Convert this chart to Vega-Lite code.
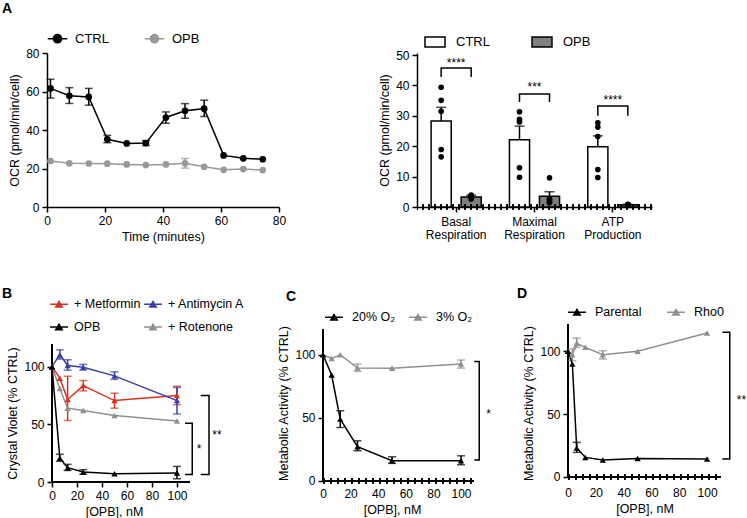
{
  "$schema": "https://vega.github.io/schema/vega-lite/v6.json",
  "padding": {"left": 2, "top": 2, "right": 0, "bottom": 0},
  "background": "white",
  "config": {
    "font": "Liberation Sans",
    "view": {"stroke": null},
    "axis": {"domainColor": "#000", "domainWidth": 1.5, "tickColor": "#000", "tickWidth": 1.5, "tickSize": 5, "labelColor": "#000", "labelFontSize": 12, "titleColor": "#000", "titleFontSize": 12.5, "titleFontWeight": "normal", "grid": false, "labelPadding": 3, "titlePadding": 4, "labelFlush": false, "labelOverlap": false},
    "legend": {"labelFontSize": 12.5, "labelColor": "#000", "title": null},
    "title": {"fontSize": 14, "fontWeight": "bold", "anchor": "start", "frame": "group", "color": "#000", "offset": 0}
  },
  "datasets": {
    "a1": [
      {"t": 1.2, "v": 61.6, "lo": 56.6, "hi": 66.4, "s": "CTRL"},
      {"t": 7.7, "v": 57.8, "lo": 53.8, "hi": 62.0, "s": "CTRL"},
      {"t": 14.4, "v": 57.2, "lo": 52.9, "hi": 61.6, "s": "CTRL"},
      {"t": 20.8, "v": 35.2, "lo": 33.4, "hi": 37.2, "s": "CTRL"},
      {"t": 27.5, "v": 33.0, "lo": null, "hi": null, "s": "CTRL"},
      {"t": 34.1, "v": 33.2, "lo": 31.9, "hi": 34.5, "s": "CTRL"},
      {"t": 41.0, "v": 46.5, "lo": 43.5, "hi": 49.4, "s": "CTRL"},
      {"t": 47.6, "v": 50.0, "lo": 46.1, "hi": 53.7, "s": "CTRL"},
      {"t": 54.2, "v": 51.1, "lo": 47.0, "hi": 55.5, "s": "CTRL"},
      {"t": 60.9, "v": 26.8, "lo": null, "hi": null, "s": "CTRL"},
      {"t": 67.7, "v": 25.3, "lo": null, "hi": null, "s": "CTRL"},
      {"t": 74.4, "v": 24.8, "lo": null, "hi": null, "s": "CTRL"},
      {"t": 1.2, "v": 23.9, "lo": null, "hi": null, "s": "OPB"},
      {"t": 7.7, "v": 22.7, "lo": null, "hi": null, "s": "OPB"},
      {"t": 14.4, "v": 22.6, "lo": null, "hi": null, "s": "OPB"},
      {"t": 20.8, "v": 22.5, "lo": null, "hi": null, "s": "OPB"},
      {"t": 27.5, "v": 22.1, "lo": null, "hi": null, "s": "OPB"},
      {"t": 34.1, "v": 21.8, "lo": null, "hi": null, "s": "OPB"},
      {"t": 41.0, "v": 22.1, "lo": null, "hi": null, "s": "OPB"},
      {"t": 47.6, "v": 22.7, "lo": 20.2, "hi": 25.2, "s": "OPB"},
      {"t": 54.2, "v": 20.9, "lo": null, "hi": null, "s": "OPB"},
      {"t": 60.9, "v": 19.3, "lo": null, "hi": null, "s": "OPB"},
      {"t": 67.7, "v": 19.7, "lo": null, "hi": null, "s": "OPB"},
      {"t": 74.4, "v": 19.2, "lo": null, "hi": null, "s": "OPB"}
    ],
    "a2bars": [
      {"cat": "Basal Respiration", "g": "CTRL", "mean": 28.3, "hi": 32.8},
      {"cat": "Basal Respiration", "g": "OPB", "mean": 3.3, "hi": 3.9},
      {"cat": "Maximal Respiration", "g": "CTRL", "mean": 22.1, "hi": 26.6},
      {"cat": "Maximal Respiration", "g": "OPB", "mean": 3.5, "hi": 5.0},
      {"cat": "ATP Production", "g": "CTRL", "mean": 19.8, "hi": 23.4},
      {"cat": "ATP Production", "g": "OPB", "mean": 0.7, "hi": 0.9}
    ],
    "a2dots": [
      {"cat": "Basal Respiration", "g": "CTRL", "v": 39.4},
      {"cat": "Basal Respiration", "g": "CTRL", "v": 35.1},
      {"cat": "Basal Respiration", "g": "CTRL", "v": 31.5},
      {"cat": "Basal Respiration", "g": "CTRL", "v": 18.9},
      {"cat": "Basal Respiration", "g": "CTRL", "v": 16.5},
      {"cat": "Basal Respiration", "g": "OPB", "v": 3.9},
      {"cat": "Basal Respiration", "g": "OPB", "v": 3.6},
      {"cat": "Basal Respiration", "g": "OPB", "v": 3.3},
      {"cat": "Basal Respiration", "g": "OPB", "v": 2.6},
      {"cat": "Basal Respiration", "g": "OPB", "v": 3.4},
      {"cat": "Maximal Respiration", "g": "CTRL", "v": 31.3},
      {"cat": "Maximal Respiration", "g": "CTRL", "v": 28.0},
      {"cat": "Maximal Respiration", "g": "CTRL", "v": 28.8},
      {"cat": "Maximal Respiration", "g": "CTRL", "v": 12.9},
      {"cat": "Maximal Respiration", "g": "CTRL", "v": 9.8},
      {"cat": "Maximal Respiration", "g": "OPB", "v": 9.6},
      {"cat": "Maximal Respiration", "g": "OPB", "v": 2.6},
      {"cat": "Maximal Respiration", "g": "OPB", "v": 2.4},
      {"cat": "Maximal Respiration", "g": "OPB", "v": 1.5},
      {"cat": "Maximal Respiration", "g": "OPB", "v": 1.6},
      {"cat": "ATP Production", "g": "CTRL", "v": 27.7},
      {"cat": "ATP Production", "g": "CTRL", "v": 26.3},
      {"cat": "ATP Production", "g": "CTRL", "v": 23.2},
      {"cat": "ATP Production", "g": "CTRL", "v": 12.3},
      {"cat": "ATP Production", "g": "CTRL", "v": 9.7},
      {"cat": "ATP Production", "g": "OPB", "v": 0.8},
      {"cat": "ATP Production", "g": "OPB", "v": 0.7},
      {"cat": "ATP Production", "g": "OPB", "v": 0.6},
      {"cat": "ATP Production", "g": "OPB", "v": 0.9},
      {"cat": "ATP Production", "g": "OPB", "v": 0.5}
    ],
    "a2br": [
      {"cat": "Basal Respiration", "g": "CTRL", "y": 42.8, "k": 1},
      {"cat": "Basal Respiration", "g": "CTRL", "y": 45.7, "k": 2},
      {"cat": "Basal Respiration", "g": "OPB", "y": 45.7, "k": 3},
      {"cat": "Basal Respiration", "g": "OPB", "y": 42.8, "k": 4},
      {"cat": "Maximal Respiration", "g": "CTRL", "y": 34.5, "k": 1},
      {"cat": "Maximal Respiration", "g": "CTRL", "y": 37.2, "k": 2},
      {"cat": "Maximal Respiration", "g": "OPB", "y": 37.2, "k": 3},
      {"cat": "Maximal Respiration", "g": "OPB", "y": 34.5, "k": 4},
      {"cat": "ATP Production", "g": "CTRL", "y": 30.0, "k": 1},
      {"cat": "ATP Production", "g": "CTRL", "y": 33.2, "k": 2},
      {"cat": "ATP Production", "g": "OPB", "y": 33.2, "k": 3},
      {"cat": "ATP Production", "g": "OPB", "y": 30.0, "k": 4}
    ],
    "a2st": [
      {"cat": "Basal Respiration", "y": 47.5, "txt": "****"},
      {"cat": "Maximal Respiration", "y": 39.5, "txt": "***"},
      {"cat": "ATP Production", "y": 35.3, "txt": "****"}
    ],
    "b": [
      {"x": 0, "v": 100, "lo": null, "hi": null, "s": "+ Rotenone"},
      {"x": 6.25, "v": 81, "lo": null, "hi": null, "s": "+ Rotenone"},
      {"x": 12.5, "v": 64, "lo": null, "hi": null, "s": "+ Rotenone"},
      {"x": 25, "v": 62, "lo": null, "hi": null, "s": "+ Rotenone"},
      {"x": 50, "v": 57.6, "lo": null, "hi": null, "s": "+ Rotenone"},
      {"x": 100, "v": 52.8, "lo": null, "hi": null, "s": "+ Rotenone"},
      {"x": 0, "v": 100, "lo": null, "hi": null, "s": "+ Metformin"},
      {"x": 6.25, "v": 90, "lo": null, "hi": null, "s": "+ Metformin"},
      {"x": 12.5, "v": 71.5, "lo": 53.3, "hi": 91.7, "s": "+ Metformin"},
      {"x": 25, "v": 83.6, "lo": 79, "hi": 88, "s": "+ Metformin"},
      {"x": 50, "v": 70.6, "lo": 64, "hi": 77, "s": "+ Metformin"},
      {"x": 100, "v": 75, "lo": 67, "hi": 83, "s": "+ Metformin"},
      {"x": 0, "v": 100, "lo": null, "hi": null, "s": "+ Antimycin A"},
      {"x": 6.25, "v": 110.4, "lo": 106.6, "hi": 114.6, "s": "+ Antimycin A"},
      {"x": 12.5, "v": 101, "lo": 97, "hi": 106, "s": "+ Antimycin A"},
      {"x": 25, "v": 99.5, "lo": 97, "hi": 102, "s": "+ Antimycin A"},
      {"x": 50, "v": 92, "lo": 89, "hi": 95.5, "s": "+ Antimycin A"},
      {"x": 100, "v": 70.6, "lo": 59, "hi": 82, "s": "+ Antimycin A"},
      {"x": 0, "v": 100, "lo": null, "hi": null, "s": "OPB"},
      {"x": 6.25, "v": 20.7, "lo": 18, "hi": 24, "s": "OPB"},
      {"x": 12.5, "v": 12.4, "lo": 10, "hi": 15.3, "s": "OPB"},
      {"x": 25, "v": 8.6, "lo": 6.7, "hi": 10.7, "s": "OPB"},
      {"x": 50, "v": 7.2, "lo": null, "hi": null, "s": "OPB"},
      {"x": 100, "v": 7.8, "lo": 2.8, "hi": 13.5, "s": "OPB"}
    ],
    "bbr": [
      {"id": "s1", "x": 106.4, "y": 51, "k": 1},
      {"id": "s1", "x": 112.2, "y": 51, "k": 2},
      {"id": "s1", "x": 112.2, "y": 6.6, "k": 3},
      {"id": "s1", "x": 106.4, "y": 6.6, "k": 4},
      {"id": "s2", "x": 119, "y": 75, "k": 1},
      {"id": "s2", "x": 125.6, "y": 75, "k": 2},
      {"id": "s2", "x": 125.6, "y": 6.6, "k": 3},
      {"id": "s2", "x": 119, "y": 6.6, "k": 4}
    ],
    "bst": [
      {"x": 117.6, "y": 29, "txt": "*"},
      {"x": 132, "y": 41, "txt": "**"}
    ],
    "c": [
      {"x": 0, "v": 100, "lo": null, "hi": null, "s": "3% O₂"},
      {"x": 6.25, "v": 97.1, "lo": null, "hi": null, "s": "3% O₂"},
      {"x": 12.5, "v": 100, "lo": null, "hi": null, "s": "3% O₂"},
      {"x": 25, "v": 89.4, "lo": 86.8, "hi": 92.6, "s": "3% O₂"},
      {"x": 50, "v": 89.2, "lo": null, "hi": null, "s": "3% O₂"},
      {"x": 100, "v": 92.6, "lo": 89.4, "hi": 95.8, "s": "3% O₂"},
      {"x": 0, "v": 100, "lo": null, "hi": null, "s": "20% O₂"},
      {"x": 6.25, "v": 83.9, "lo": null, "hi": null, "s": "20% O₂"},
      {"x": 12.5, "v": 48.9, "lo": 42.3, "hi": 55.6, "s": "20% O₂"},
      {"x": 25, "v": 27, "lo": 23.8, "hi": 31.7, "s": "20% O₂"},
      {"x": 50, "v": 15.9, "lo": 13.8, "hi": 19, "s": "20% O₂"},
      {"x": 100, "v": 15.9, "lo": 12.7, "hi": 19.8, "s": "20% O₂"}
    ],
    "cbr": [
      {"id": "s1", "x": 109.6, "y": 94.7, "k": 1},
      {"id": "s1", "x": 113.2, "y": 94.7, "k": 2},
      {"id": "s1", "x": 113.2, "y": 16.4, "k": 3},
      {"id": "s1", "x": 109.6, "y": 16.4, "k": 4}
    ],
    "cst": [{"x": 120, "y": 53, "txt": "*"}],
    "d": [
      {"x": 0, "v": 100, "lo": null, "hi": null, "s": "Rho0"},
      {"x": 3.125, "v": 97.3, "lo": 92.6, "hi": 101.9, "s": "Rho0"},
      {"x": 6.25, "v": 106.4, "lo": 103.2, "hi": 110.6, "s": "Rho0"},
      {"x": 12.5, "v": 103.2, "lo": null, "hi": null, "s": "Rho0"},
      {"x": 25, "v": 97.3, "lo": 93.9, "hi": 100.5, "s": "Rho0"},
      {"x": 50, "v": 100, "lo": null, "hi": null, "s": "Rho0"},
      {"x": 100, "v": 114.6, "lo": null, "hi": null, "s": "Rho0"},
      {"x": 0, "v": 100, "lo": null, "hi": null, "s": "Parental"},
      {"x": 3.125, "v": 89.9, "lo": null, "hi": null, "s": "Parental"},
      {"x": 6.25, "v": 22.9, "lo": 19.4, "hi": 27.4, "s": "Parental"},
      {"x": 12.5, "v": 15.4, "lo": null, "hi": null, "s": "Parental"},
      {"x": 25, "v": 13.3, "lo": null, "hi": null, "s": "Parental"},
      {"x": 50, "v": 14.6, "lo": null, "hi": null, "s": "Parental"},
      {"x": 100, "v": 14.1, "lo": null, "hi": null, "s": "Parental"}
    ],
    "dbr": [
      {"id": "s1", "x": 111, "y": 115.2, "k": 1},
      {"id": "s1", "x": 116.3, "y": 115.2, "k": 2},
      {"id": "s1", "x": 116.3, "y": 14.1, "k": 3},
      {"id": "s1", "x": 111, "y": 14.1, "k": 4}
    ],
    "dst": [{"x": 124.7, "y": 61, "txt": "**"}]
  },
  "spacing": 44,
  "resolve": {"scale": {"color": "independent"}, "legend": {"color": "independent"}},
  "vconcat": [
    {
      "hconcat": [
        {
          "name": "pA1",
          "width": 232,
          "height": 154,
          "title": {"text": "A", "dx": -45, "dy": -8},
          "data": {"name": "a1"},
          "encoding": {
            "x": {"field": "t", "type": "quantitative", "scale": {"domain": [0, 80], "nice": false}, "axis": {"values": [0, 20, 40, 60, 80], "title": "Time (minutes)"}},
            "y": {"field": "v", "type": "quantitative", "scale": {"domain": [0, 80], "nice": false}, "axis": {"values": [0, 20, 40, 60, 80], "title": "OCR (pmol/min/cell)"}},
            "color": {"field": "s", "type": "nominal", "scale": {"domain": ["CTRL", "OPB"], "range": ["#000000", "#999999"]},
              "legend": {"orient": "none", "legendX": 0, "legendY": -25, "direction": "horizontal", "symbolType": "M-1,0H1M0.42,0A0.42,0.42,0,1,1,-0.42,0A0.42,0.42,0,1,1,0.42,0Z", "symbolSize": 380, "symbolStrokeWidth": 1.5, "labelFontSize": 13, "labelOffset": 7, "columnPadding": 32,
                "encode": {"symbols": {"update": {"fill": [{"test": "datum.value === 'CTRL'", "value": "#000000"}, {"value": "#999999"}], "stroke": [{"test": "datum.value === 'CTRL'", "value": "#000000"}, {"value": "#999999"}], "opacity": {"value": 1}}}}}}
          },
          "layer": [
            {"transform": [{"filter": "datum.lo != null"}], "mark": {"type": "errorbar", "ticks": {"size": 8, "thickness": 1.5}, "rule": {"strokeWidth": 1.5}},
             "encoding": {"y": {"field": "lo", "type": "quantitative", "scale": {"domain": [0, 80], "nice": false}, "axis": {"values": [0, 20, 40, 60, 80], "title": "OCR (pmol/min/cell)"}}, "y2": {"field": "hi"}}},
            {"mark": {"type": "line", "strokeWidth": 1.5}},
            {"mark": {"type": "point", "filled": true, "size": 45, "opacity": 1}}
          ]
        },
        {
          "name": "pA2",
          "width": 235,
          "height": 154,
          "encoding": {
            "x": {"field": "cat", "type": "nominal", "scale": {"domain": ["Basal Respiration", "Maximal Respiration", "ATP Production"], "paddingInner": 0, "paddingOuter": 0}, "axis": {"title": null, "labelAngle": 0, "labelExpr": "split(datum.label, ' ')", "labelLineHeight": 13, "labelPadding": 4}},
            "xOffset": {"field": "g", "type": "nominal", "scale": {"domain": ["CTRL", "OPB"], "paddingInner": 0.33, "paddingOuter": 0.47}}
          },
          "layer": [
            {"data": {"name": "a2bars"}, "mark": {"type": "bar", "stroke": "#000", "strokeWidth": 1.5},
             "encoding": {
               "y": {"field": "mean", "type": "quantitative", "scale": {"domain": [0, 50.66], "nice": false}, "axis": {"values": [0, 10, 20, 30, 40, 50], "title": "OCR (pmol/min/cell)"}},
               "color": {"field": "g", "type": "nominal", "scale": {"domain": ["CTRL", "OPB"], "range": ["#ffffff", "#7f7f7f"]},
                 "legend": {"orient": "none", "legendX": 7, "legendY": -22, "direction": "horizontal", "symbolType": "M-1,-0.5H1V0.5H-1Z", "symbolSize": 400, "symbolStrokeWidth": 1.5, "labelFontSize": 13, "labelOffset": 10, "columnPadding": 39,
                   "encode": {"symbols": {"update": {"fill": [{"test": "datum.value === 'CTRL'", "value": "#ffffff"}, {"value": "#7f7f7f"}], "stroke": {"value": "#000000"}, "opacity": {"value": 1}}}}}}
             }},
            {"data": {"name": "a2bars"}, "mark": {"type": "rule", "color": "#000", "strokeWidth": 1.5},
             "encoding": {"y": {"field": "mean", "type": "quantitative", "scale": {"domain": [0, 50.66], "nice": false}, "axis": {"values": [0, 10, 20, 30, 40, 50], "title": "OCR (pmol/min/cell)"}}, "y2": {"field": "hi"}}},
            {"data": {"name": "a2bars"}, "mark": {"type": "tick", "color": "#000", "thickness": 1.5, "size": 10},
             "encoding": {"y": {"field": "hi", "type": "quantitative", "scale": {"domain": [0, 50.66], "nice": false}, "axis": {"values": [0, 10, 20, 30, 40, 50], "title": "OCR (pmol/min/cell)"}}}},
            {"data": {"name": "a2dots"}, "mark": {"type": "point", "filled": true, "color": "#000", "size": 32, "opacity": 1},
             "encoding": {"y": {"field": "v", "type": "quantitative", "scale": {"domain": [0, 50.66], "nice": false}, "axis": {"values": [0, 10, 20, 30, 40, 50], "title": "OCR (pmol/min/cell)"}}}},
            {"data": {"name": "a2bars"}, "mark": {"type": "rule", "color": "#000", "strokeWidth": 5, "strokeDash": [1.5, 4.5]},
             "encoding": {"x": null, "xOffset": null, "y": {"datum": 0, "type": "quantitative", "scale": {"domain": [0, 50.66], "nice": false}, "axis": {"values": [0, 10, 20, 30, 40, 50], "title": "OCR (pmol/min/cell)"}}}},
            {"data": {"name": "a2br"}, "mark": {"type": "line", "color": "#000", "strokeWidth": 1.5},
             "encoding": {"y": {"field": "y", "type": "quantitative", "scale": {"domain": [0, 50.66], "nice": false}, "axis": {"values": [0, 10, 20, 30, 40, 50], "title": "OCR (pmol/min/cell)"}}, "detail": {"field": "cat"}, "order": {"field": "k"}}},
            {"data": {"name": "a2st"}, "mark": {"type": "text", "fontSize": 12, "baseline": "middle", "color": "#000"},
             "encoding": {"xOffset": null, "y": {"field": "y", "type": "quantitative", "scale": {"domain": [0, 50.66], "nice": false}, "axis": {"values": [0, 10, 20, 30, 40, 50], "title": "OCR (pmol/min/cell)"}}, "text": {"field": "txt"}}}
          ]
        }
      ],
      "spacing": 138,
      "bounds": "flush",
      "resolve": {"scale": {"color": "independent"}, "legend": {"color": "independent"}}
    },
    {
      "hconcat": [
        {
          "name": "pB",
          "width": 182,
          "height": 158,
          "title": {"text": "B", "dx": -45, "dy": 11},
          "encoding": {
            "x": {"field": "x", "type": "quantitative", "scale": {"domain": [-4, 141.6], "nice": false}, "axis": {"values": [0, 20, 40, 60, 80, 100], "domain": false, "title": "[OPB], nM", "titleX": 67}},
            "y": {"field": "v", "type": "quantitative", "scale": {"domain": [0, 137], "nice": false}, "axis": {"values": [0, 50, 100], "domain": false, "offset": -5, "title": "Crystal Violet (% CTRL)", "titleY": 89, "titleX": -33}},
            "color": {"field": "s", "type": "nominal", "scale": {"domain": ["+ Metformin", "+ Antimycin A", "OPB", "+ Rotenone"], "range": ["#d8321f", "#3a3fa6", "#000000", "#8f8f8f"]},
               "legend": {"orient": "none", "legendX": 2, "legendY": -30, "direction": "horizontal", "columns": 2, "symbolType": "M-1,0H1M-0.36,0.3L0,-0.32L0.36,0.3Z", "symbolSize": 320, "symbolStrokeWidth": 1.5, "labelFontSize": 12.5, "labelOffset": 5, "columnPadding": 0, "rowPadding": 6,
                 "encode": {"symbols": {"update": {"fill": [{"test": "datum.value === '+ Metformin'", "value": "#d8321f"}, {"test": "datum.value === '+ Antimycin A'", "value": "#3a3fa6"}, {"test": "datum.value === 'OPB'", "value": "#000000"}, {"value": "#8f8f8f"}], "stroke": [{"test": "datum.value === '+ Metformin'", "value": "#d8321f"}, {"test": "datum.value === '+ Antimycin A'", "value": "#3a3fa6"}, {"test": "datum.value === 'OPB'", "value": "#000000"}, {"value": "#8f8f8f"}], "opacity": {"value": 1}}}}}}
          },
          "layer": [
            {"data": {"name": "b"}, "mark": {"type": "rule", "strokeWidth": 1.5}, "encoding": {"color": {"value": "#000"}, "x": {"datum": 0}, "x2": {"datum": 110}, "y": {"datum": 0}}},
            {"data": {"name": "b"}, "mark": {"type": "rule", "strokeWidth": 1.5}, "encoding": {"color": {"value": "#000"}, "x": {"datum": 0}, "y": {"datum": 0}, "y2": {"datum": 119.6}}},
            {"data": {"name": "bbr"}, "mark": {"type": "line", "strokeWidth": 1.5}, "encoding": {"color": {"value": "#000"}, "y": {"field": "y", "type": "quantitative"}, "detail": {"field": "id"}, "order": {"field": "k"}}},
            {"data": {"name": "bst"}, "mark": {"type": "text", "fontSize": 12, "baseline": "middle"}, "encoding": {"color": {"value": "#000"}, "y": {"field": "y", "type": "quantitative"}, "text": {"field": "txt"}}},
            {"data": {"name": "b"}, "transform": [{"filter": "datum.lo != null"}], "mark": {"type": "errorbar", "ticks": {"size": 8, "thickness": 1.5}, "rule": {"strokeWidth": 1.5}},
             "encoding": {"y": {"field": "lo", "type": "quantitative", "scale": {"domain": [0, 137], "nice": false}, "axis": {"values": [0, 50, 100], "domain": false, "offset": -5, "title": "Crystal Violet (% CTRL)", "titleY": 89, "titleX": -33}}, "y2": {"field": "hi"}}},
            {"data": {"name": "b"}, "mark": {"type": "line", "strokeWidth": 1.5}},
            {"data": {"name": "b"}, "mark": {"type": "point", "filled": true, "shape": "triangle-up", "size": 40, "opacity": 1}}
          ]
        },
        {
          "name": "pC",
          "width": 151,
          "height": 158,
          "title": {"text": "C", "dx": -37, "dy": 1},
          "encoding": {
            "x": {"field": "x", "type": "quantitative", "scale": {"domain": [0, 109.4], "nice": false}, "axis": {"values": [0, 20, 40, 60, 80, 100], "domain": false, "ticks": false, "labelPadding": 6, "title": "[OPB], nM", "titleX": 69}},
            "y": {"field": "v", "type": "quantitative", "scale": {"domain": [-1, 124.4], "nice": false}, "axis": {"values": [0, 50, 100], "domain": false, "title": "Metabolic Activity (% CTRL)"}},
            "color": {"field": "s", "type": "nominal", "scale": {"domain": ["20% O₂", "3% O₂"], "range": ["#000000", "#8f8f8f"]},
               "legend": {"orient": "none", "legendX": 1, "legendY": -17, "direction": "horizontal", "symbolType": "M-1,0H1M-0.36,0.3L0,-0.32L0.36,0.3Z", "symbolSize": 320, "symbolStrokeWidth": 1.5, "labelFontSize": 12.5, "labelOffset": 8, "columnPadding": 10,
                 "encode": {"symbols": {"update": {"fill": [{"test": "datum.value === '20% O₂'", "value": "#000000"}, {"value": "#8f8f8f"}], "stroke": [{"test": "datum.value === '20% O₂'", "value": "#000000"}, {"value": "#8f8f8f"}], "opacity": {"value": 1}}}}}}
          },
          "layer": [
            {"data": {"name": "c"}, "mark": {"type": "rule", "strokeWidth": 1.5}, "encoding": {"color": {"value": "#000"}, "x": {"datum": 0}, "x2": {"datum": 109.4}, "y": {"datum": 0}}},
            {"data": {"name": "c"}, "mark": {"type": "rule", "strokeWidth": 5, "strokeDash": [1.5, 5.5]}, "encoding": {"color": {"value": "#000"}, "x": {"datum": 0}, "x2": {"datum": 109.4}, "y": {"datum": 0}}},
            {"data": {"name": "c"}, "mark": {"type": "rule", "strokeWidth": 1.5}, "encoding": {"color": {"value": "#000"}, "x": {"datum": 0}, "y": {"datum": 0}, "y2": {"datum": 120.4}}},
            {"data": {"name": "cbr"}, "mark": {"type": "line", "strokeWidth": 1.5}, "encoding": {"color": {"value": "#000"}, "y": {"field": "y", "type": "quantitative"}, "detail": {"field": "id"}, "order": {"field": "k"}}},
            {"data": {"name": "cst"}, "mark": {"type": "text", "fontSize": 12, "baseline": "middle"}, "encoding": {"color": {"value": "#000"}, "y": {"field": "y", "type": "quantitative"}, "text": {"field": "txt"}}},
            {"data": {"name": "c"}, "transform": [{"filter": "datum.lo != null"}], "mark": {"type": "errorbar", "ticks": {"size": 8, "thickness": 1.5}, "rule": {"strokeWidth": 1.5}},
             "encoding": {"y": {"field": "lo", "type": "quantitative", "scale": {"domain": [-1, 124.4], "nice": false}, "axis": {"values": [0, 50, 100], "domain": false, "title": "Metabolic Activity (% CTRL)"}}, "y2": {"field": "hi"}}},
            {"data": {"name": "c"}, "mark": {"type": "line", "strokeWidth": 1.5}},
            {"data": {"name": "c"}, "mark": {"type": "point", "filled": true, "shape": "triangle-up", "size": 40, "opacity": 1}}
          ]
        },
        {
          "name": "pD",
          "width": 153,
          "height": 158,
          "title": {"text": "D", "dx": -51, "dy": 3},
          "encoding": {
            "x": {"field": "x", "type": "quantitative", "scale": {"domain": [0, 110], "nice": false}, "axis": {"values": [0, 20, 40, 60, 80, 100], "domain": false, "ticks": false, "labelPadding": 5, "title": "[OPB], nM"}},
            "y": {"field": "v", "type": "quantitative", "scale": {"domain": [-4.2, 121.8], "nice": false}, "axis": {"values": [0, 50, 100], "domain": false, "title": "Metabolic Activity (% CTRL)"}},
            "color": {"field": "s", "type": "nominal", "scale": {"domain": ["Parental", "Rho0"], "range": ["#000000", "#8f8f8f"]},
               "legend": {"orient": "none", "legendX": -1, "legendY": -22, "direction": "horizontal", "symbolType": "M-1,0H1M-0.36,0.3L0,-0.32L0.36,0.3Z", "symbolSize": 320, "symbolStrokeWidth": 1.5, "labelFontSize": 12.5, "labelOffset": 8, "columnPadding": 22,
                 "encode": {"symbols": {"update": {"fill": [{"test": "datum.value === 'Parental'", "value": "#000000"}, {"value": "#8f8f8f"}], "stroke": [{"test": "datum.value === 'Parental'", "value": "#000000"}, {"value": "#8f8f8f"}], "opacity": {"value": 1}}}}}}
          },
          "layer": [
            {"data": {"name": "d"}, "mark": {"type": "rule", "strokeWidth": 1.5}, "encoding": {"color": {"value": "#000"}, "x": {"datum": 0}, "x2": {"datum": 110}, "y": {"datum": 0}}},
            {"data": {"name": "d"}, "mark": {"type": "rule", "strokeWidth": 5, "strokeDash": [1.5, 5.5]}, "encoding": {"color": {"value": "#000"}, "x": {"datum": 0}, "x2": {"datum": 110}, "y": {"datum": 0}}},
            {"data": {"name": "d"}, "mark": {"type": "rule", "strokeWidth": 1.5}, "encoding": {"color": {"value": "#000"}, "x": {"datum": 0}, "y": {"datum": 0}, "y2": {"datum": 121.8}}},
            {"data": {"name": "dbr"}, "mark": {"type": "line", "strokeWidth": 1.5}, "encoding": {"color": {"value": "#000"}, "y": {"field": "y", "type": "quantitative"}, "detail": {"field": "id"}, "order": {"field": "k"}}},
            {"data": {"name": "dst"}, "mark": {"type": "text", "fontSize": 12, "baseline": "middle"}, "encoding": {"color": {"value": "#000"}, "y": {"field": "y", "type": "quantitative"}, "text": {"field": "txt"}}},
            {"data": {"name": "d"}, "transform": [{"filter": "datum.lo != null"}], "mark": {"type": "errorbar", "ticks": {"size": 8, "thickness": 1.5}, "rule": {"strokeWidth": 1.5}},
             "encoding": {"y": {"field": "lo", "type": "quantitative", "scale": {"domain": [-4.2, 121.8], "nice": false}, "axis": {"values": [0, 50, 100], "domain": false, "title": "Metabolic Activity (% CTRL)"}}, "y2": {"field": "hi"}}},
            {"data": {"name": "d"}, "mark": {"type": "line", "strokeWidth": 1.5}},
            {"data": {"name": "d"}, "mark": {"type": "point", "filled": true, "shape": "triangle-up", "size": 40, "opacity": 1}}
          ]
        }
      ],
      "spacing": 94,
      "bounds": "flush",
      "resolve": {"scale": {"color": "independent"}, "legend": {"color": "independent"}}
    }
  ]
}
